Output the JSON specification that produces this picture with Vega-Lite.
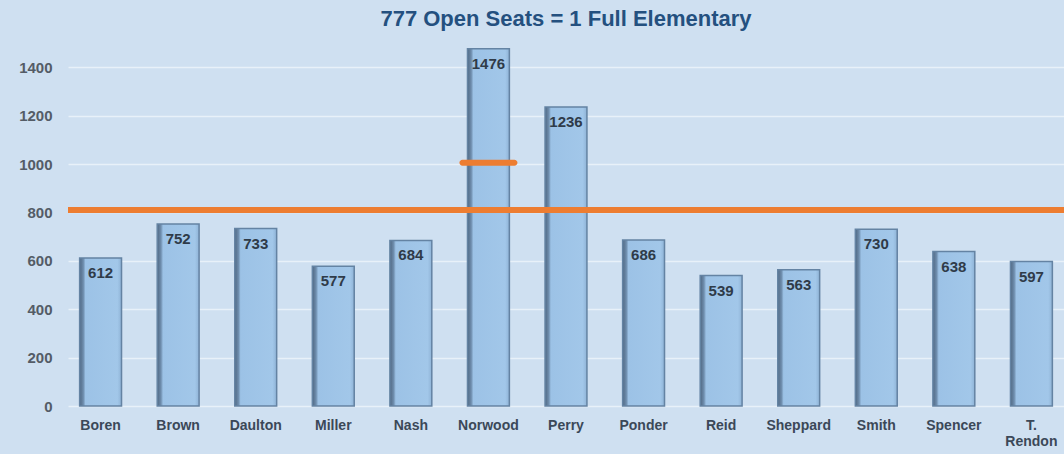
{
  "$schema": "https://vega.github.io/schema/vega-lite/v6.json",
  "width": 996,
  "height": 363,
  "autosize": "none",
  "padding": {"left": 68, "top": 43, "right": 0, "bottom": 48},
  "background": "#cfe0f1",
  "title": {
    "text": "777 Open Seats = 1 Full Elementary",
    "font": "Liberation Sans",
    "fontSize": 22,
    "fontWeight": "bold",
    "color": "#24507f",
    "anchor": "middle",
    "offset": 12
  },
  "config": {
    "view": {"stroke": null},
    "axis": {"labelFont": "Liberation Sans", "labelFontWeight": "bold", "labelFontSize": 14, "domain": false, "ticks": false, "title": null}
  },
  "datasets": {
    "schools": [
      {"school": "Boren", "seats": 612},
      {"school": "Brown", "seats": 752},
      {"school": "Daulton", "seats": 733},
      {"school": "Miller", "seats": 577},
      {"school": "Nash", "seats": 684},
      {"school": "Norwood", "seats": 1476},
      {"school": "Perry", "seats": 1236},
      {"school": "Ponder", "seats": 686},
      {"school": "Reid", "seats": 539},
      {"school": "Sheppard", "seats": 563},
      {"school": "Smith", "seats": 730},
      {"school": "Spencer", "seats": 638},
      {"school": "T. Rendon", "seats": 597}
    ],
    "threshold": [{"level": 810}],
    "marker": [{"school": "Norwood", "level": 1005}]
  },
  "layer": [
    {
      "data": {"name": "schools"},
      "mark": {
        "type": "bar",
        "fill": {
          "gradient": "linear", "x1": 0, "x2": 1, "y1": 0, "y2": 0,
          "stops": [
            {"offset": 0, "color": "#4f6782"},
            {"offset": 0.09, "color": "#6f8eae"},
            {"offset": 0.14, "color": "#9cc2e6"},
            {"offset": 0.9, "color": "#a2c7e9"},
            {"offset": 1, "color": "#8fb3d6"}
          ]
        },
        "stroke": "#6483a3", "strokeWidth": 1.5
      },
      "encoding": {
        "x": {
          "field": "school", "type": "nominal", "sort": null,
          "scale": {"paddingInner": 0.46, "paddingOuter": 0.15},
          "axis": {"labelAngle": 0, "labelColor": "#3b4858", "labelPadding": 12,
                   "labelExpr": "datum.value == 'T. Rendon' ? ['T.', 'Rendon'] : datum.value"}
        },
        "y": {
          "field": "seats", "type": "quantitative",
          "scale": {"domain": [0, 1500], "nice": false},
          "axis": {"values": [0, 200, 400, 600, 800, 1000, 1200, 1400], "format": "d", "labelColor": "#545c66",
                   "labelFontSize": 15, "labelPadding": 16, "grid": true, "gridColor": "#eef5fb", "gridOpacity": 0.8, "gridWidth": 1.5}
        }
      }
    },
    {
      "data": {"name": "schools"},
      "mark": {"type": "text", "baseline": "top", "dy": 8, "font": "Liberation Sans", "fontWeight": "bold", "fontSize": 15, "color": "#2f3b49"},
      "encoding": {
        "x": {"field": "school", "type": "nominal", "sort": null},
        "y": {"field": "seats", "type": "quantitative"},
        "text": {"field": "seats", "type": "quantitative"}
      }
    },
    {
      "data": {"name": "threshold"},
      "mark": {"type": "rule", "color": "#ed7d31", "strokeWidth": 6},
      "encoding": {"y": {"field": "level", "type": "quantitative"}}
    },
    {
      "data": {"name": "marker"},
      "mark": {"type": "tick", "color": "#ed7d31", "size": 58, "thickness": 6, "opacity": 1, "cornerRadius": 3},
      "encoding": {
        "x": {"field": "school", "type": "nominal", "sort": null},
        "y": {"field": "level", "type": "quantitative"}
      }
    }
  ]
}
